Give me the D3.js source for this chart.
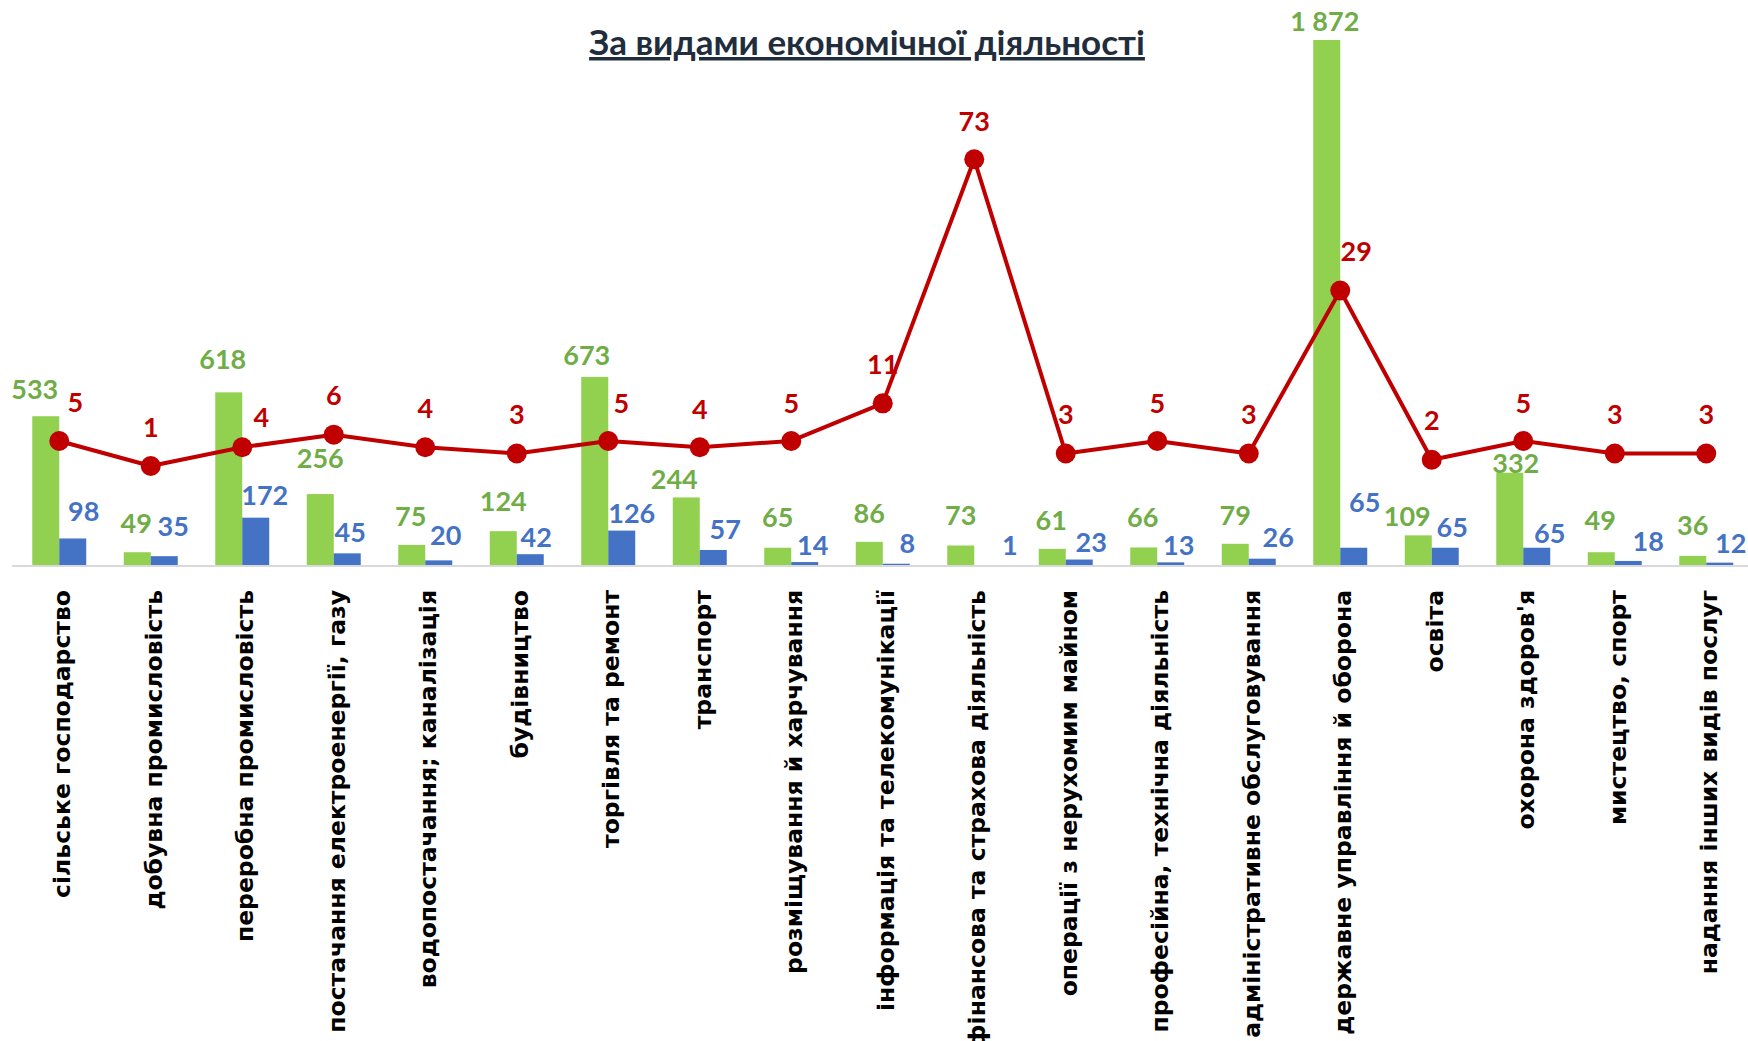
<!DOCTYPE html>
<html>
<head>
<meta charset="utf-8">
<script src="https://cdn.jsdelivr.net/npm/d3@7"></script>
<style>
  html, body { margin: 0; padding: 0; background: #fff; overflow: hidden; }
  svg { display: block; }
</style>
</head>
<body>
<svg id="chart" width="1748" height="1041"></svg>
<script>
// ---- data ----
const title = "За видами економічної діяльності";
const categories = [
  "сільське господарство",
  "добувна промисловість",
  "переробна промисловість",
  "постачання електроенергії, газу",
  "водопостачання; каналізація",
  "будівництво",
  "торгівля та ремонт",
  "транспорт",
  "розміщування й харчування",
  "інформація та телекомунікації",
  "фінансова та страхова діяльність",
  "операції з нерухомим майном",
  "професійна, технічна діяльність",
  "адміністративне обслуговування",
  "державне управління й оборона",
  "освіта",
  "охорона здоров'я",
  "мистецтво, спорт",
  "надання інших видів послуг"
];
const greenValues = [533, 49, 618, 256, 75, 124, 673, 244, 65, 86, 73, 61, 66, 79, 1872, 109, 332, 49, 36];
const blueValues  = [98, 35, 172, 45, 20, 42, 126, 57, 14, 8, 1, 23, 13, 26, 65, 65, 65, 18, 12];
const redValues   = [5, 1, 4, 6, 4, 3, 5, 4, 5, 11, 73, 3, 5, 3, 29, 2, 5, 3, 3];

// ---- label placement nudges (annotation layout, px) ----
const greenLabelDx = [-11, -1, -6, 0, -1, 0, -8, -12, 0, 0, 0, -1, -1, 0, -2, -11, 6, -1, 0];
const greenLabelRise = [27, 29, 33, 36, 29, 30, 22, 18, 30, 29, 30, 29, 30, 29, 19, 19, 9, 32, 31];
const blueLabelDx = [11, 9, 9, 3, 7, 6, 10, 12, 8, 11, 22, 12, 8, 16, 11, 7, 13, 20, 11];
const blueLabelRise = [27, 30, 22, 21, 25, 17, 17, 21, 17, 20, 20, 17, 17, 21, 45, 20, 14, 20, 19];
const redLabelDx = [16, 0, 19, 0, 0, 0, 13, 0, 0, 0, 0, 0, 0, 0, 16, 0, 0, 0, 0];
const redLabelRise = [39, 39, 30, 39, 39, 39, 38, 38, 38, 39, 38, 39, 38, 39, 39, 39, 38, 39, 39];

// ---- styles ----
const GREEN = "#92D050", GREEN_TXT = "#70AD47";
const BLUE = "#4472C4";
const RED = "#C00000";
const labelFont = "Lato, 'Open Sans', sans-serif";

const svg = d3.select("#chart");
const baseY = 566;

const x = d3.scaleBand().domain(categories).range([13.5, 1752]).padding(0);
const barW = x.bandwidth() * 0.295;

const yBar = d3.scaleLinear().domain([0, 1872]).range([baseY, 40]);
// secondary axis of the original is not uniform above 29 (piecewise linear)
const yRed = d3.scaleLinear().domain([0, 29, 73]).range([472.3, 290.5, 159.3]);

const fmt = d3.formatLocale({decimal: ",", thousands: " ", grouping: [3], currency: ["", ""]}).format(",d");

// title
svg.append("text")
  .attr("x", 867).attr("y", 55)
  .attr("text-anchor", "middle")
  .attr("font-family", labelFont)
  .attr("font-weight", 700)
  .attr("font-size", 35)
  .attr("fill", "#1F2D3D")
  .attr("text-decoration", "underline")
  .text(title);

const idx = d3.range(categories.length);
const cx = i => x(categories[i]) + x.bandwidth() / 2;

// bars
svg.append("g").selectAll("rect.g").data(idx).join("rect")
  .attr("x", i => cx(i) - barW)
  .attr("width", barW)
  .attr("y", i => yBar(greenValues[i]))
  .attr("height", i => baseY - yBar(greenValues[i]))
  .attr("fill", GREEN);
svg.append("g").selectAll("rect.b").data(idx).join("rect")
  .attr("x", i => cx(i))
  .attr("width", barW)
  .attr("y", i => yBar(blueValues[i]))
  .attr("height", i => baseY - yBar(blueValues[i]))
  .attr("fill", BLUE);

// x axis
const axis = svg.append("g")
  .attr("transform", `translate(0,${baseY})`)
  .call(d3.axisBottom(x).tickSize(0).tickSizeOuter(0));
axis.select(".domain").attr("stroke", "#D9D9D9").attr("stroke-width", 2)
  .attr("d", `M12,0H1748`);
axis.selectAll(".tick text")
  .attr("transform", "rotate(-90)")
  .attr("x", -24)
  .attr("y", 11)
  .attr("dy", 0)
  .attr("text-anchor", "end")
  .attr("font-family", "'DejaVu Sans', Verdana, sans-serif")
  .attr("font-weight", 700)
  .attr("font-size", 23.5)
  .attr("fill", "#000");

// red line
const line = d3.line().x(i => cx(i)).y(i => yRed(redValues[i]));
svg.append("path").datum(idx)
  .attr("d", line)
  .attr("fill", "none")
  .attr("stroke", RED)
  .attr("stroke-width", 4)
  .attr("stroke-linejoin", "round");
svg.append("g").selectAll("circle").data(idx).join("circle")
  .attr("cx", i => cx(i))
  .attr("cy", i => yRed(redValues[i]))
  .attr("r", 10)
  .attr("fill", RED);

// labels
function labels(vals, dxArr, riseArr, color, xOf, yOf) {
  svg.append("g").selectAll("text").data(idx).join("text")
    .attr("x", i => xOf(i) + dxArr[i])
    .attr("y", i => yOf(i) - riseArr[i])
    .attr("dy", "0.36em")
    .attr("text-anchor", "middle")
    .attr("font-family", labelFont)
    .attr("font-weight", 700)
    .attr("font-size", 27)
    .attr("fill", color)
    .text(i => fmt(vals[i]));
}
labels(greenValues, greenLabelDx, greenLabelRise, GREEN_TXT, i => cx(i) - barW / 2, i => yBar(greenValues[i]));
labels(blueValues, blueLabelDx, blueLabelRise, BLUE, i => cx(i) + barW / 2, i => yBar(blueValues[i]));
labels(redValues, redLabelDx, redLabelRise, RED, i => cx(i), i => yRed(redValues[i]));
</script>
</body>
</html>
